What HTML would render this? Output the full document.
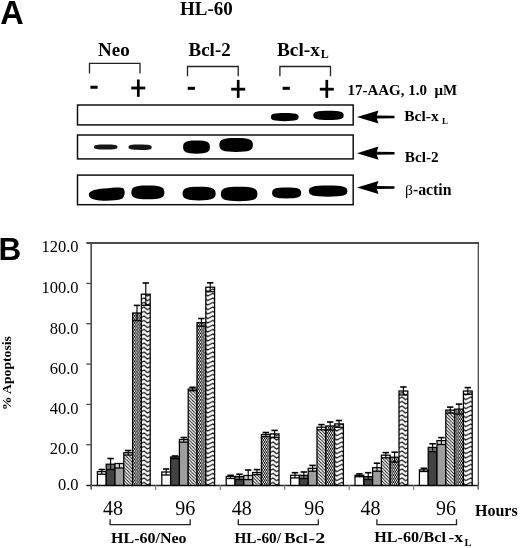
<!DOCTYPE html><html><head><meta charset="utf-8"><style>html,body{margin:0;padding:0;background:#fff;}svg{display:block;will-change:transform;}</style></head><body>
<svg width="520" height="548" viewBox="0 0 520 548">
<defs>
<filter id="bl" x="-20%" y="-50%" width="140%" height="200%"><feGaussianBlur stdDeviation="0.75"/></filter>
<filter id="bl2" x="-20%" y="-80%" width="140%" height="260%"><feGaussianBlur stdDeviation="0.55"/></filter>
<pattern id="diag" patternUnits="userSpaceOnUse" width="3.3" height="3.3">
<rect width="3.3" height="3.3" fill="#fff"/>
<path d="M-1,-1 L4.3,4.3 M-1,2.3 L1,4.3 M2.3,-1 L4.3,1" stroke="#000" stroke-width="0.85"/>
</pattern>
<pattern id="chk" patternUnits="userSpaceOnUse" width="2.2" height="3.5">
<rect width="2.2" height="3.5" fill="#fff"/>
<rect x="0" y="0" width="1.1" height="1.75" fill="#000"/>
<rect x="1.1" y="1.75" width="1.1" height="1.75" fill="#000"/>
<rect x="0.9" y="0.6" width="0.4" height="0.55" fill="#000"/>
<rect x="0.9" y="2.35" width="0.4" height="0.55" fill="#000"/>
</pattern>
<pattern id="zig" patternUnits="userSpaceOnUse" width="8.6" height="4.5">
<rect width="8.6" height="4.5" fill="#fff"/>
<path d="M-2,0.9 L1.2,3.6 L6.6,0.9 L9.8,3.6" stroke="#000" stroke-width="1.12" fill="none"/>
<path d="M-2,5.4 L1.2,8.1 L6.6,5.4 L9.8,8.1 M-2,-3.6 L1.2,-0.9 L6.6,-3.6 L9.8,-0.9" stroke="#000" stroke-width="1.12" fill="none"/>
</pattern>
</defs>
<rect width="520" height="548" fill="#fff"/>
<text x="0.2" y="23.5" font-family='"Liberation Sans", sans-serif' font-size="32.5" font-weight="bold" text-anchor="start" >A</text>
<text x="180" y="15.4" font-family='"Liberation Serif", serif' font-size="19" font-weight="bold" text-anchor="start" >HL-60</text>
<text x="98" y="55.8" font-family='"Liberation Serif", serif' font-size="19" font-weight="bold" text-anchor="start" >Neo</text>
<text x="188.5" y="55.8" font-family='"Liberation Serif", serif' font-size="19" font-weight="bold" text-anchor="start" >Bcl-2</text>
<text x="277" y="55.7" font-family='"Liberation Serif", serif' font-size="19.3" font-weight="bold" text-anchor="start" >Bcl-x<tspan font-size="12" dx="0.8" dy="2">L</tspan></text>
<path d="M89.5,73.6 L89.5,63.3 L140,63.3 L140,73.6" fill="none" stroke="#222" stroke-width="1.3"/>
<path d="M187.5,76.3 L187.5,66.5 L238.2,66.5 L238.2,76.3" fill="none" stroke="#222" stroke-width="1.3"/>
<path d="M279.9,76.3 L279.9,66.5 L330.5,66.5 L330.5,76.3" fill="none" stroke="#222" stroke-width="1.3"/>
<rect x="90.4" y="85.75" width="7.2" height="3" fill="#000"/>
<rect x="187.70000000000002" y="86.8" width="7.2" height="3" fill="#000"/>
<rect x="282.59999999999997" y="86.8" width="7.2" height="3" fill="#000"/>
<rect x="131.3" y="86.6" width="14" height="2.8" fill="#000"/>
<rect x="136.95000000000002" y="79.5" width="2.7" height="17.299999999999997" fill="#000"/>
<rect x="231.2" y="87.8" width="14" height="2.8" fill="#000"/>
<rect x="236.85" y="79.9" width="2.7" height="18.0" fill="#000"/>
<rect x="319.8" y="87.8" width="14" height="2.8" fill="#000"/>
<rect x="325.45" y="79.9" width="2.7" height="18.0" fill="#000"/>
<text x="347.4" y="95" font-family='"Liberation Serif", serif' font-size="15" font-weight="bold" text-anchor="start" >17-AAG, 1.0 &#160;μM</text>
<rect x="77.5" y="105" width="275.7" height="19.900000000000006" fill="none" stroke="#111" stroke-width="1.5"/>
<rect x="77.5" y="135" width="275.7" height="23.900000000000006" fill="none" stroke="#111" stroke-width="1.5"/>
<rect x="77.5" y="175.1" width="275.7" height="29.599999999999994" fill="none" stroke="#111" stroke-width="1.5"/>
<path d="M88.8,194.6 C88.8,191 95,189.4 104,188.6 C113,187.8 120,187.0 123,188.3 C125.6,189.8 125.2,197 122,198.8 C117,200.6 108,201.1 100,200.6 C93,200.1 88.8,198.2 88.8,194.6 Z" fill="#000" filter="url(#bl)"/>
<path d="M270.85,117.12 C270.85,113.99 273.91,113.10 284.75,113.10 C295.59,113.10 298.65,113.99 298.65,117.12 C298.65,120.26 295.59,121.15 284.75,121.15 C273.91,121.15 270.85,120.26 270.85,117.12 Z" fill="#000" filter="url(#bl)"/>
<path d="M313.35,115.38 C313.35,111.85 316.68,110.85 328.50,110.85 C340.32,110.85 343.65,111.85 343.65,115.38 C343.65,118.90 340.32,119.90 328.50,119.90 C316.68,119.90 313.35,118.90 313.35,115.38 Z" fill="#000" filter="url(#bl)"/>
<path d="M94.00,147.00 C94.00,145.05 96.58,144.50 105.75,144.50 C114.92,144.50 117.50,145.05 117.50,147.00 C117.50,148.95 114.92,149.50 105.75,149.50 C96.58,149.50 94.00,148.95 94.00,147.00 Z" fill="#151515" filter="url(#bl2)"/>
<path d="M128.50,147.00 C128.50,145.05 131.05,144.50 140.10,144.50 C149.15,144.50 151.70,145.14 151.70,147.40 C151.70,149.35 149.15,149.90 140.10,149.90 C131.05,149.90 128.50,149.26 128.50,147.00 Z" fill="#151515" filter="url(#bl2)"/>
<path d="M183.10,147.12 C183.10,142.04 186.05,140.60 196.50,140.60 C206.95,140.60 209.90,142.04 209.90,147.12 C209.90,152.21 206.95,153.65 196.50,153.65 C186.05,153.65 183.10,152.21 183.10,147.12 Z" fill="#000" filter="url(#bl)"/>
<path d="M219.35,145.00 C219.35,139.62 223.04,138.10 236.12,138.10 C249.21,138.10 252.90,139.62 252.90,145.00 C252.90,150.38 249.21,151.90 236.12,151.90 C223.04,151.90 219.35,150.38 219.35,145.00 Z" fill="#000" filter="url(#bl)"/>
<path d="M131.35,192.38 C131.35,187.09 134.99,185.60 147.88,185.60 C160.76,185.60 164.40,187.09 164.40,192.38 C164.40,197.66 160.76,199.15 147.88,199.15 C134.99,199.15 131.35,197.66 131.35,192.38 Z" fill="#000" filter="url(#bl)"/>
<path d="M182.60,193.62 C182.60,188.34 186.24,186.85 199.12,186.85 C212.01,186.85 215.65,188.34 215.65,193.62 C215.65,198.91 212.01,200.40 199.12,200.40 C186.24,200.40 182.60,198.91 182.60,193.62 Z" fill="#000" filter="url(#bl)"/>
<path d="M220.85,194.00 C220.85,188.42 224.87,186.85 239.12,186.85 C253.38,186.85 257.40,188.42 257.40,194.00 C257.40,199.58 253.38,201.15 239.12,201.15 C224.87,201.15 220.85,199.58 220.85,194.00 Z" fill="#000" filter="url(#bl)"/>
<path d="M272.10,193.00 C272.10,188.79 275.30,187.60 286.62,187.60 C297.95,187.60 301.15,188.79 301.15,193.00 C301.15,197.21 297.95,198.40 286.62,198.40 C275.30,198.40 272.10,197.21 272.10,193.00 Z" fill="#000" filter="url(#bl)"/>
<path d="M308.85,191.12 C308.85,186.82 313.09,185.60 328.12,185.60 C343.16,185.60 347.40,186.82 347.40,191.12 C347.40,195.43 343.16,196.65 328.12,196.65 C313.09,196.65 308.85,195.43 308.85,191.12 Z" fill="#000" filter="url(#bl)"/>
<path d="M357,117 L378.5,110.4 L376.8,115.5 L394.5,115.7 L394.5,118.3 L376.8,118.5 L378.5,123.6 Z" fill="#000"/>
<path d="M357,153.2 L378.5,146.6 L376.8,151.7 L394.5,151.89999999999998 L394.5,154.5 L376.8,154.7 L378.5,159.79999999999998 Z" fill="#000"/>
<path d="M357,187.5 L378.5,180.9 L376.8,186.0 L394.5,186.2 L394.5,188.8 L376.8,189.0 L378.5,194.1 Z" fill="#000"/>
<text x="404.3" y="120.9" font-family='"Liberation Serif", serif' font-size="15" font-weight="bold" text-anchor="start" textLength="34.4" lengthAdjust="spacingAndGlyphs">Bcl-x</text>
<text x="442.0" y="124.4" font-family='"Liberation Serif", serif' font-size="9" font-weight="bold" text-anchor="start" >L</text>
<text x="404.8" y="162" font-family='"Liberation Serif", serif' font-size="15.2" font-weight="bold" text-anchor="start" >Bcl-2</text>
<text x="405" y="194.7" font-family='"Liberation Serif", serif' font-size="15.8" font-weight="bold" text-anchor="start" ><tspan font-weight="normal" font-size="15.5">β</tspan>-actin</text>
<text x="-1.6" y="260.4" font-family='"Liberation Sans", sans-serif' font-size="31.5" font-weight="bold" text-anchor="start" >B</text>
<text x="78.6" y="252.25" font-family='"Liberation Serif", serif' font-size="16.5" font-weight="normal" text-anchor="end" >120.0</text>
<text x="78.6" y="292.75" font-family='"Liberation Serif", serif' font-size="16.5" font-weight="normal" text-anchor="end" >100.0</text>
<text x="78.6" y="333.5" font-family='"Liberation Serif", serif' font-size="16.5" font-weight="normal" text-anchor="end" >80.0</text>
<text x="78.6" y="373.7" font-family='"Liberation Serif", serif' font-size="16.5" font-weight="normal" text-anchor="end" >60.0</text>
<text x="78.6" y="413.7" font-family='"Liberation Serif", serif' font-size="16.5" font-weight="normal" text-anchor="end" >40.0</text>
<text x="78.6" y="454.3" font-family='"Liberation Serif", serif' font-size="16.5" font-weight="normal" text-anchor="end" >20.0</text>
<text x="78.6" y="490.2" font-family='"Liberation Serif", serif' font-size="16.5" font-weight="normal" text-anchor="end" >0.0</text>
<text transform="translate(10.7,410.3) rotate(-90)" font-family='"Liberation Serif", serif' font-size="13.2" font-weight="bold" textLength="74.2" lengthAdjust="spacingAndGlyphs">% Apoptosis</text>
<line x1="91.2" y1="242.5" x2="91.2" y2="489" stroke="#4a4a4a" stroke-width="1.6"/>
<line x1="86.3" y1="243.1" x2="479" y2="243.1" stroke="#4a4a4a" stroke-width="2"/>
<line x1="478.3" y1="242.5" x2="478.3" y2="489" stroke="#3a3a3a" stroke-width="1.2"/>
<line x1="86.3" y1="485.4" x2="478.3" y2="485.4" stroke="#222" stroke-width="1.5"/>
<line x1="86.3" y1="283.43" x2="91" y2="283.43" stroke="#4a4a4a" stroke-width="1.3"/>
<line x1="86.3" y1="323.76" x2="91" y2="323.76" stroke="#4a4a4a" stroke-width="1.3"/>
<line x1="86.3" y1="364.09" x2="91" y2="364.09" stroke="#4a4a4a" stroke-width="1.3"/>
<line x1="86.3" y1="404.42" x2="91" y2="404.42" stroke="#4a4a4a" stroke-width="1.3"/>
<line x1="86.3" y1="444.75" x2="91" y2="444.75" stroke="#4a4a4a" stroke-width="1.3"/>
<line x1="91.20" y1="485" x2="91.20" y2="490" stroke="#777" stroke-width="1.1"/>
<line x1="155.70" y1="485" x2="155.70" y2="490" stroke="#777" stroke-width="1.1"/>
<line x1="220.20" y1="485" x2="220.20" y2="490" stroke="#777" stroke-width="1.1"/>
<line x1="284.70" y1="485" x2="284.70" y2="490" stroke="#777" stroke-width="1.1"/>
<line x1="349.20" y1="485" x2="349.20" y2="490" stroke="#777" stroke-width="1.1"/>
<line x1="413.70" y1="485" x2="413.70" y2="490" stroke="#777" stroke-width="1.1"/>
<line x1="478.20" y1="485" x2="478.20" y2="490" stroke="#777" stroke-width="1.1"/>
<rect x="97.40" y="471.60" width="8.80" height="13.80" fill="#fff"/>
<rect x="97.40" y="471.60" width="8.80" height="2.60" fill="#fff"/>
<line x1="97.40" y1="474.20" x2="106.20" y2="474.20" stroke="#000" stroke-width="1.3"/>
<rect x="97.40" y="471.60" width="8.80" height="13.80" fill="none" stroke="#000" stroke-width="1.25"/>
<rect x="106.20" y="464.20" width="8.80" height="21.20" fill="#424242"/>
<rect x="106.20" y="464.20" width="8.80" height="5.30" fill="#707070"/>
<line x1="106.20" y1="469.50" x2="115.00" y2="469.50" stroke="#000" stroke-width="1.3"/>
<rect x="106.20" y="464.20" width="8.80" height="21.20" fill="none" stroke="#000" stroke-width="1.25"/>
<rect x="115.00" y="463.50" width="8.80" height="21.90" fill="#9e9e9e"/>
<rect x="115.00" y="463.50" width="8.80" height="4.50" fill="#d6d6d6"/>
<line x1="115.00" y1="468.00" x2="123.80" y2="468.00" stroke="#000" stroke-width="1.3"/>
<rect x="115.00" y="463.50" width="8.80" height="21.90" fill="none" stroke="#000" stroke-width="1.25"/>
<rect x="123.80" y="452.70" width="8.80" height="32.70" fill="url(#diag)"/>
<rect x="123.80" y="452.70" width="8.80" height="2.30" fill="#eee"/>
<line x1="123.80" y1="455.00" x2="132.60" y2="455.00" stroke="#000" stroke-width="1.3"/>
<rect x="123.80" y="452.70" width="8.80" height="32.70" fill="none" stroke="#000" stroke-width="1.25"/>
<rect x="132.60" y="313.00" width="8.80" height="172.40" fill="url(#chk)"/>
<line x1="132.60" y1="320.60" x2="141.40" y2="320.60" stroke="#000" stroke-width="1.3"/>
<rect x="132.60" y="313.00" width="8.80" height="172.40" fill="none" stroke="#000" stroke-width="1.25"/>
<rect x="141.40" y="294.20" width="8.80" height="191.20" fill="url(#zig)"/>
<line x1="141.40" y1="305.30" x2="150.20" y2="305.30" stroke="#000" stroke-width="1.3"/>
<rect x="141.40" y="294.20" width="8.80" height="191.20" fill="none" stroke="#000" stroke-width="1.25"/>
<path d="M101.80,469.50 L101.80,474.20" stroke="#000" stroke-width="1.15" fill="none"/>
<path d="M98.60,469.50 L105.00,469.50" stroke="#000" stroke-width="1.6" fill="none"/>
<path d="M110.60,458.50 L110.60,469.50" stroke="#000" stroke-width="1.15" fill="none"/>
<path d="M107.40,458.50 L113.80,458.50" stroke="#000" stroke-width="1.6" fill="none"/>
<path d="M119.40,463.50 L119.40,468.00" stroke="#000" stroke-width="1.15" fill="none"/>
<path d="M128.20,450.50 L128.20,455.00" stroke="#000" stroke-width="1.15" fill="none"/>
<path d="M125.00,450.50 L131.40,450.50" stroke="#000" stroke-width="1.6" fill="none"/>
<path d="M137.00,305.40 L137.00,320.60" stroke="#000" stroke-width="1.15" fill="none"/>
<path d="M133.80,305.40 L140.20,305.40" stroke="#000" stroke-width="1.6" fill="none"/>
<path d="M145.80,283.00 L145.80,305.30" stroke="#000" stroke-width="1.15" fill="none"/>
<path d="M142.60,283.00 L149.00,283.00" stroke="#000" stroke-width="1.6" fill="none"/>
<rect x="161.80" y="472.00" width="8.80" height="13.40" fill="#fff"/>
<rect x="161.80" y="472.00" width="8.80" height="3.00" fill="#fff"/>
<line x1="161.80" y1="475.00" x2="170.60" y2="475.00" stroke="#000" stroke-width="1.3"/>
<rect x="161.80" y="472.00" width="8.80" height="13.40" fill="none" stroke="#000" stroke-width="1.25"/>
<rect x="170.60" y="457.00" width="8.80" height="28.40" fill="#424242"/>
<rect x="170.60" y="457.00" width="8.80" height="1.60" fill="#707070"/>
<line x1="170.60" y1="458.60" x2="179.40" y2="458.60" stroke="#000" stroke-width="1.3"/>
<rect x="170.60" y="457.00" width="8.80" height="28.40" fill="none" stroke="#000" stroke-width="1.25"/>
<rect x="179.40" y="439.50" width="8.80" height="45.90" fill="#9e9e9e"/>
<rect x="179.40" y="439.50" width="8.80" height="2.60" fill="#d6d6d6"/>
<line x1="179.40" y1="442.10" x2="188.20" y2="442.10" stroke="#000" stroke-width="1.3"/>
<rect x="179.40" y="439.50" width="8.80" height="45.90" fill="none" stroke="#000" stroke-width="1.25"/>
<rect x="188.20" y="389.00" width="8.80" height="96.40" fill="url(#diag)"/>
<rect x="188.20" y="389.00" width="8.80" height="1.70" fill="#eee"/>
<line x1="188.20" y1="390.70" x2="197.00" y2="390.70" stroke="#000" stroke-width="1.3"/>
<rect x="188.20" y="389.00" width="8.80" height="96.40" fill="none" stroke="#000" stroke-width="1.25"/>
<rect x="197.00" y="322.60" width="8.80" height="162.80" fill="url(#chk)"/>
<line x1="197.00" y1="326.20" x2="205.80" y2="326.20" stroke="#000" stroke-width="1.3"/>
<rect x="197.00" y="322.60" width="8.80" height="162.80" fill="none" stroke="#000" stroke-width="1.25"/>
<rect x="205.80" y="287.20" width="8.80" height="198.20" fill="url(#zig)"/>
<line x1="205.80" y1="291.70" x2="214.60" y2="291.70" stroke="#000" stroke-width="1.3"/>
<rect x="205.80" y="287.20" width="8.80" height="198.20" fill="none" stroke="#000" stroke-width="1.25"/>
<path d="M166.20,469.00 L166.20,475.00" stroke="#000" stroke-width="1.15" fill="none"/>
<path d="M163.00,469.00 L169.40,469.00" stroke="#000" stroke-width="1.6" fill="none"/>
<path d="M175.00,456.00 L175.00,458.60" stroke="#000" stroke-width="1.15" fill="none"/>
<path d="M171.80,456.00 L178.20,456.00" stroke="#000" stroke-width="1.6" fill="none"/>
<path d="M183.80,437.50 L183.80,442.10" stroke="#000" stroke-width="1.15" fill="none"/>
<path d="M180.60,437.50 L187.00,437.50" stroke="#000" stroke-width="1.6" fill="none"/>
<path d="M192.60,387.30 L192.60,390.70" stroke="#000" stroke-width="1.15" fill="none"/>
<path d="M189.40,387.30 L195.80,387.30" stroke="#000" stroke-width="1.6" fill="none"/>
<path d="M201.40,318.50 L201.40,326.20" stroke="#000" stroke-width="1.15" fill="none"/>
<path d="M198.20,318.50 L204.60,318.50" stroke="#000" stroke-width="1.6" fill="none"/>
<path d="M210.20,282.80 L210.20,291.70" stroke="#000" stroke-width="1.15" fill="none"/>
<path d="M207.00,282.80 L213.40,282.80" stroke="#000" stroke-width="1.6" fill="none"/>
<rect x="226.20" y="476.50" width="8.80" height="8.90" fill="#fff"/>
<rect x="226.20" y="476.50" width="8.80" height="2.00" fill="#fff"/>
<line x1="226.20" y1="478.50" x2="235.00" y2="478.50" stroke="#000" stroke-width="1.3"/>
<rect x="226.20" y="476.50" width="8.80" height="8.90" fill="none" stroke="#000" stroke-width="1.25"/>
<rect x="235.00" y="476.50" width="8.80" height="8.90" fill="#424242"/>
<rect x="235.00" y="476.50" width="8.80" height="3.10" fill="#707070"/>
<line x1="235.00" y1="479.60" x2="243.80" y2="479.60" stroke="#000" stroke-width="1.3"/>
<rect x="235.00" y="476.50" width="8.80" height="8.90" fill="none" stroke="#000" stroke-width="1.25"/>
<rect x="243.80" y="475.50" width="8.80" height="9.90" fill="#9e9e9e"/>
<rect x="243.80" y="475.50" width="8.80" height="4.10" fill="#d6d6d6"/>
<line x1="243.80" y1="479.60" x2="252.60" y2="479.60" stroke="#000" stroke-width="1.3"/>
<rect x="243.80" y="475.50" width="8.80" height="9.90" fill="none" stroke="#000" stroke-width="1.25"/>
<rect x="252.60" y="472.50" width="8.80" height="12.90" fill="url(#diag)"/>
<rect x="252.60" y="472.50" width="8.80" height="2.10" fill="#eee"/>
<line x1="252.60" y1="474.60" x2="261.40" y2="474.60" stroke="#000" stroke-width="1.3"/>
<rect x="252.60" y="472.50" width="8.80" height="12.90" fill="none" stroke="#000" stroke-width="1.25"/>
<rect x="261.40" y="434.50" width="8.80" height="50.90" fill="url(#chk)"/>
<rect x="261.40" y="434.50" width="8.80" height="2.00" fill="#eee"/>
<line x1="261.40" y1="436.50" x2="270.20" y2="436.50" stroke="#000" stroke-width="1.3"/>
<rect x="261.40" y="434.50" width="8.80" height="50.90" fill="none" stroke="#000" stroke-width="1.25"/>
<rect x="270.20" y="433.90" width="8.80" height="51.50" fill="url(#zig)"/>
<line x1="270.20" y1="437.40" x2="279.00" y2="437.40" stroke="#000" stroke-width="1.3"/>
<rect x="270.20" y="433.90" width="8.80" height="51.50" fill="none" stroke="#000" stroke-width="1.25"/>
<path d="M230.60,475.30 L230.60,478.50" stroke="#000" stroke-width="1.15" fill="none"/>
<path d="M227.40,475.30 L233.80,475.30" stroke="#000" stroke-width="1.6" fill="none"/>
<path d="M239.40,474.20 L239.40,479.60" stroke="#000" stroke-width="1.15" fill="none"/>
<path d="M236.20,474.20 L242.60,474.20" stroke="#000" stroke-width="1.6" fill="none"/>
<path d="M248.20,470.00 L248.20,479.60" stroke="#000" stroke-width="1.15" fill="none"/>
<path d="M245.00,470.00 L251.40,470.00" stroke="#000" stroke-width="1.6" fill="none"/>
<path d="M257.00,469.60 L257.00,474.60" stroke="#000" stroke-width="1.15" fill="none"/>
<path d="M253.80,469.60 L260.20,469.60" stroke="#000" stroke-width="1.6" fill="none"/>
<path d="M265.80,432.50 L265.80,436.50" stroke="#000" stroke-width="1.15" fill="none"/>
<path d="M262.60,432.50 L269.00,432.50" stroke="#000" stroke-width="1.6" fill="none"/>
<path d="M274.60,430.40 L274.60,437.40" stroke="#000" stroke-width="1.15" fill="none"/>
<path d="M271.40,430.40 L277.80,430.40" stroke="#000" stroke-width="1.6" fill="none"/>
<rect x="290.60" y="475.30" width="8.80" height="10.10" fill="#fff"/>
<rect x="290.60" y="475.30" width="8.80" height="2.60" fill="#fff"/>
<line x1="290.60" y1="477.90" x2="299.40" y2="477.90" stroke="#000" stroke-width="1.3"/>
<rect x="290.60" y="475.30" width="8.80" height="10.10" fill="none" stroke="#000" stroke-width="1.25"/>
<rect x="299.40" y="475.30" width="8.80" height="10.10" fill="#424242"/>
<rect x="299.40" y="475.30" width="8.80" height="3.30" fill="#707070"/>
<line x1="299.40" y1="478.60" x2="308.20" y2="478.60" stroke="#000" stroke-width="1.3"/>
<rect x="299.40" y="475.30" width="8.80" height="10.10" fill="none" stroke="#000" stroke-width="1.25"/>
<rect x="308.20" y="468.30" width="8.80" height="17.10" fill="#9e9e9e"/>
<rect x="308.20" y="468.30" width="8.80" height="2.90" fill="#d6d6d6"/>
<line x1="308.20" y1="471.20" x2="317.00" y2="471.20" stroke="#000" stroke-width="1.3"/>
<rect x="308.20" y="468.30" width="8.80" height="17.10" fill="none" stroke="#000" stroke-width="1.25"/>
<rect x="317.00" y="427.20" width="8.80" height="58.20" fill="url(#diag)"/>
<rect x="317.00" y="427.20" width="8.80" height="2.60" fill="#eee"/>
<line x1="317.00" y1="429.80" x2="325.80" y2="429.80" stroke="#000" stroke-width="1.3"/>
<rect x="317.00" y="427.20" width="8.80" height="58.20" fill="none" stroke="#000" stroke-width="1.25"/>
<rect x="325.80" y="426.00" width="8.80" height="59.40" fill="url(#chk)"/>
<line x1="325.80" y1="430.00" x2="334.60" y2="430.00" stroke="#000" stroke-width="1.3"/>
<rect x="325.80" y="426.00" width="8.80" height="59.40" fill="none" stroke="#000" stroke-width="1.25"/>
<rect x="334.60" y="423.90" width="8.80" height="61.50" fill="url(#zig)"/>
<line x1="334.60" y1="427.30" x2="343.40" y2="427.30" stroke="#000" stroke-width="1.3"/>
<rect x="334.60" y="423.90" width="8.80" height="61.50" fill="none" stroke="#000" stroke-width="1.25"/>
<path d="M295.00,472.70 L295.00,477.90" stroke="#000" stroke-width="1.15" fill="none"/>
<path d="M291.80,472.70 L298.20,472.70" stroke="#000" stroke-width="1.6" fill="none"/>
<path d="M303.80,472.00 L303.80,478.60" stroke="#000" stroke-width="1.15" fill="none"/>
<path d="M300.60,472.00 L307.00,472.00" stroke="#000" stroke-width="1.6" fill="none"/>
<path d="M312.60,465.40 L312.60,471.20" stroke="#000" stroke-width="1.15" fill="none"/>
<path d="M309.40,465.40 L315.80,465.40" stroke="#000" stroke-width="1.6" fill="none"/>
<path d="M321.40,424.60 L321.40,429.80" stroke="#000" stroke-width="1.15" fill="none"/>
<path d="M318.20,424.60 L324.60,424.60" stroke="#000" stroke-width="1.6" fill="none"/>
<path d="M330.20,422.00 L330.20,430.00" stroke="#000" stroke-width="1.15" fill="none"/>
<path d="M327.00,422.00 L333.40,422.00" stroke="#000" stroke-width="1.6" fill="none"/>
<path d="M339.00,420.50 L339.00,427.30" stroke="#000" stroke-width="1.15" fill="none"/>
<path d="M335.80,420.50 L342.20,420.50" stroke="#000" stroke-width="1.6" fill="none"/>
<rect x="355.00" y="475.30" width="8.80" height="10.10" fill="#fff"/>
<rect x="355.00" y="475.30" width="8.80" height="1.40" fill="#fff"/>
<line x1="355.00" y1="476.70" x2="363.80" y2="476.70" stroke="#000" stroke-width="1.3"/>
<rect x="355.00" y="475.30" width="8.80" height="10.10" fill="none" stroke="#000" stroke-width="1.25"/>
<rect x="363.80" y="476.70" width="8.80" height="8.70" fill="#424242"/>
<rect x="363.80" y="476.70" width="8.80" height="2.80" fill="#707070"/>
<line x1="363.80" y1="479.50" x2="372.60" y2="479.50" stroke="#000" stroke-width="1.3"/>
<rect x="363.80" y="476.70" width="8.80" height="8.70" fill="none" stroke="#000" stroke-width="1.25"/>
<rect x="372.60" y="467.70" width="8.80" height="17.70" fill="#9e9e9e"/>
<rect x="372.60" y="467.70" width="8.80" height="3.50" fill="#d6d6d6"/>
<line x1="372.60" y1="471.20" x2="381.40" y2="471.20" stroke="#000" stroke-width="1.3"/>
<rect x="372.60" y="467.70" width="8.80" height="17.70" fill="none" stroke="#000" stroke-width="1.25"/>
<rect x="381.40" y="455.20" width="8.80" height="30.20" fill="url(#diag)"/>
<rect x="381.40" y="455.20" width="8.80" height="2.60" fill="#eee"/>
<line x1="381.40" y1="457.80" x2="390.20" y2="457.80" stroke="#000" stroke-width="1.3"/>
<rect x="381.40" y="455.20" width="8.80" height="30.20" fill="none" stroke="#000" stroke-width="1.25"/>
<rect x="390.20" y="457.20" width="8.80" height="28.20" fill="url(#chk)"/>
<line x1="390.20" y1="462.20" x2="399.00" y2="462.20" stroke="#000" stroke-width="1.3"/>
<rect x="390.20" y="457.20" width="8.80" height="28.20" fill="none" stroke="#000" stroke-width="1.25"/>
<rect x="399.00" y="391.00" width="8.80" height="94.40" fill="url(#zig)"/>
<line x1="399.00" y1="395.00" x2="407.80" y2="395.00" stroke="#000" stroke-width="1.3"/>
<rect x="399.00" y="391.00" width="8.80" height="94.40" fill="none" stroke="#000" stroke-width="1.25"/>
<path d="M359.40,473.90 L359.40,476.70" stroke="#000" stroke-width="1.15" fill="none"/>
<path d="M356.20,473.90 L362.60,473.90" stroke="#000" stroke-width="1.6" fill="none"/>
<path d="M368.20,472.70 L368.20,479.50" stroke="#000" stroke-width="1.15" fill="none"/>
<path d="M365.00,472.70 L371.40,472.70" stroke="#000" stroke-width="1.6" fill="none"/>
<path d="M377.00,463.20 L377.00,471.20" stroke="#000" stroke-width="1.15" fill="none"/>
<path d="M373.80,463.20 L380.20,463.20" stroke="#000" stroke-width="1.6" fill="none"/>
<path d="M385.80,452.60 L385.80,457.80" stroke="#000" stroke-width="1.15" fill="none"/>
<path d="M382.60,452.60 L389.00,452.60" stroke="#000" stroke-width="1.6" fill="none"/>
<path d="M394.60,452.20 L394.60,462.20" stroke="#000" stroke-width="1.15" fill="none"/>
<path d="M391.40,452.20 L397.80,452.20" stroke="#000" stroke-width="1.6" fill="none"/>
<path d="M403.40,387.00 L403.40,395.00" stroke="#000" stroke-width="1.15" fill="none"/>
<path d="M400.20,387.00 L406.60,387.00" stroke="#000" stroke-width="1.6" fill="none"/>
<rect x="419.40" y="469.90" width="8.80" height="15.50" fill="#fff"/>
<rect x="419.40" y="469.90" width="8.80" height="1.60" fill="#fff"/>
<line x1="419.40" y1="471.50" x2="428.20" y2="471.50" stroke="#000" stroke-width="1.3"/>
<rect x="419.40" y="469.90" width="8.80" height="15.50" fill="none" stroke="#000" stroke-width="1.25"/>
<rect x="428.20" y="447.40" width="8.80" height="38.00" fill="#424242"/>
<rect x="428.20" y="447.40" width="8.80" height="4.30" fill="#707070"/>
<line x1="428.20" y1="451.70" x2="437.00" y2="451.70" stroke="#000" stroke-width="1.3"/>
<rect x="428.20" y="447.40" width="8.80" height="38.00" fill="none" stroke="#000" stroke-width="1.25"/>
<rect x="437.00" y="440.60" width="8.80" height="44.80" fill="#9e9e9e"/>
<rect x="437.00" y="440.60" width="8.80" height="3.90" fill="#d6d6d6"/>
<line x1="437.00" y1="444.50" x2="445.80" y2="444.50" stroke="#000" stroke-width="1.3"/>
<rect x="437.00" y="440.60" width="8.80" height="44.80" fill="none" stroke="#000" stroke-width="1.25"/>
<rect x="445.80" y="410.10" width="8.80" height="75.30" fill="url(#diag)"/>
<line x1="445.80" y1="413.10" x2="454.60" y2="413.10" stroke="#000" stroke-width="1.3"/>
<rect x="445.80" y="410.10" width="8.80" height="75.30" fill="none" stroke="#000" stroke-width="1.25"/>
<rect x="454.60" y="409.10" width="8.80" height="76.30" fill="url(#chk)"/>
<line x1="454.60" y1="414.10" x2="463.40" y2="414.10" stroke="#000" stroke-width="1.3"/>
<rect x="454.60" y="409.10" width="8.80" height="76.30" fill="none" stroke="#000" stroke-width="1.25"/>
<rect x="463.40" y="391.00" width="8.80" height="94.40" fill="url(#zig)"/>
<line x1="463.40" y1="394.40" x2="472.20" y2="394.40" stroke="#000" stroke-width="1.3"/>
<rect x="463.40" y="391.00" width="8.80" height="94.40" fill="none" stroke="#000" stroke-width="1.25"/>
<path d="M423.80,468.30 L423.80,471.50" stroke="#000" stroke-width="1.15" fill="none"/>
<path d="M420.60,468.30 L427.00,468.30" stroke="#000" stroke-width="1.6" fill="none"/>
<path d="M432.60,443.80 L432.60,451.70" stroke="#000" stroke-width="1.15" fill="none"/>
<path d="M429.40,443.80 L435.80,443.80" stroke="#000" stroke-width="1.6" fill="none"/>
<path d="M441.40,437.60 L441.40,444.50" stroke="#000" stroke-width="1.15" fill="none"/>
<path d="M438.20,437.60 L444.60,437.60" stroke="#000" stroke-width="1.6" fill="none"/>
<path d="M450.20,407.10 L450.20,413.10" stroke="#000" stroke-width="1.15" fill="none"/>
<path d="M447.00,407.10 L453.40,407.10" stroke="#000" stroke-width="1.6" fill="none"/>
<path d="M459.00,404.10 L459.00,414.10" stroke="#000" stroke-width="1.15" fill="none"/>
<path d="M455.80,404.10 L462.20,404.10" stroke="#000" stroke-width="1.6" fill="none"/>
<path d="M467.80,387.60 L467.80,394.40" stroke="#000" stroke-width="1.15" fill="none"/>
<path d="M464.60,387.60 L471.00,387.60" stroke="#000" stroke-width="1.6" fill="none"/>
<text x="103" y="514.8" font-family='"Liberation Serif", serif' font-size="20" font-weight="normal" text-anchor="start" >48</text>
<text x="175.2" y="514.8" font-family='"Liberation Serif", serif' font-size="20" font-weight="normal" text-anchor="start" >96</text>
<text x="231.8" y="514.8" font-family='"Liberation Serif", serif' font-size="20" font-weight="normal" text-anchor="start" >48</text>
<text x="304.2" y="514.8" font-family='"Liberation Serif", serif' font-size="20" font-weight="normal" text-anchor="start" >96</text>
<text x="360.6" y="514.8" font-family='"Liberation Serif", serif' font-size="20" font-weight="normal" text-anchor="start" >48</text>
<text x="435.9" y="514.8" font-family='"Liberation Serif", serif' font-size="20" font-weight="normal" text-anchor="start" >96</text>
<path d="M110.1,519.2 L110.1,524.6 L190.2,524.6 L190.2,519.2" fill="none" stroke="#222" stroke-width="1.3"/>
<path d="M238.3,519.2 L238.3,524.6 L318.3,524.6 L318.3,519.2" fill="none" stroke="#222" stroke-width="1.3"/>
<path d="M376.9,519.2 L376.9,524.6 L456.5,524.6 L456.5,519.2" fill="none" stroke="#222" stroke-width="1.3"/>
<text x="111" y="543.3" font-family='"Liberation Serif", serif' font-size="15.5" font-weight="bold" text-anchor="start" textLength="75.6" lengthAdjust="spacingAndGlyphs">HL-60/Neo</text>
<text x="234.5" y="543.3" font-family='"Liberation Serif", serif' font-size="15.5" font-weight="bold" text-anchor="start" textLength="46.4" lengthAdjust="spacingAndGlyphs">HL-60/</text>
<text x="284.2" y="543.3" font-family='"Liberation Serif", serif' font-size="15.5" font-weight="bold" text-anchor="start" textLength="23.6" lengthAdjust="spacingAndGlyphs">Bcl</text>
<text x="308.6" y="543.3" font-family='"Liberation Serif", serif' font-size="15.5" font-weight="bold" text-anchor="start" textLength="16.6" lengthAdjust="spacingAndGlyphs">-2</text>
<text x="374.3" y="542.3" font-family='"Liberation Serif", serif' font-size="15.5" font-weight="bold" text-anchor="start" textLength="71.6" lengthAdjust="spacingAndGlyphs">HL-60/Bcl</text>
<text x="448.4" y="542.3" font-family='"Liberation Serif", serif' font-size="15.5" font-weight="bold" text-anchor="start" textLength="14.6" lengthAdjust="spacingAndGlyphs">-x</text>
<text x="464.4" y="545.6" font-family='"Liberation Serif", serif' font-size="10.5" font-weight="bold" text-anchor="start" >L</text>
<text x="475" y="515.5" font-family='"Liberation Serif", serif' font-size="16" font-weight="bold" text-anchor="start" >Hours</text>
</svg></body></html>
